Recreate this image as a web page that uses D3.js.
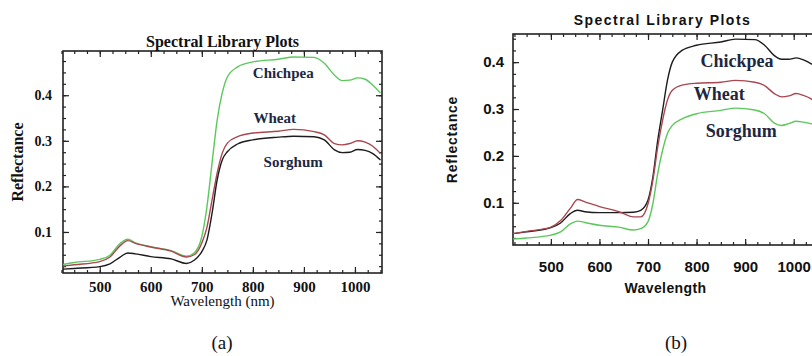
<!DOCTYPE html>
<html>
<head>
<meta charset="utf-8">
<script src="https://cdn.jsdelivr.net/npm/d3@7"></script>
<style>
  body { margin: 0; background: #fff; }
  svg { display: block; }
</style>
</head>
<body>
<script>
var width = 812,
    height = 356;

// wavelengths (nm) shared by every curve
var wavelengths = [420, 450, 500, 520, 540, 555, 570, 600, 640, 670, 685, 700, 710, 720, 730,
                   740, 750, 770, 800, 850, 880, 920, 940, 960, 975, 990, 1005, 1020, 1035, 1050];

// panel (a)
var chichpeaA = [0.027, 0.033, 0.040, 0.049, 0.075, 0.084, 0.076, 0.068, 0.059, 0.047, 0.054, 0.090, 0.155, 0.251, 0.345,
                 0.405, 0.440, 0.462, 0.473, 0.479, 0.484, 0.483, 0.470, 0.444, 0.432, 0.433, 0.438, 0.435, 0.422, 0.405];
var wheatA    = [0.024, 0.028, 0.035, 0.045, 0.070, 0.081, 0.075, 0.067, 0.058, 0.045, 0.050, 0.076, 0.110, 0.170, 0.229,
                 0.273, 0.295, 0.309, 0.317, 0.321, 0.325, 0.320, 0.313, 0.294, 0.291, 0.294, 0.300, 0.297, 0.288, 0.272];
var sorghumA  = [0.018, 0.020, 0.024, 0.030, 0.045, 0.054, 0.052, 0.046, 0.041, 0.031, 0.038, 0.057, 0.082, 0.141, 0.214,
                 0.258, 0.276, 0.293, 0.302, 0.308, 0.310, 0.309, 0.302, 0.280, 0.274, 0.275, 0.281, 0.279, 0.272, 0.258];

// panel (b)
var chickpeaB = [0.034, 0.038, 0.047, 0.057, 0.077, 0.084, 0.081, 0.079, 0.079, 0.080, 0.084, 0.106, 0.155, 0.233, 0.297,
                 0.361, 0.400, 0.425, 0.436, 0.443, 0.449, 0.448, 0.436, 0.414, 0.406, 0.406, 0.409, 0.405, 0.397, 0.390];
var wheatB    = [0.034, 0.039, 0.048, 0.062, 0.088, 0.107, 0.102, 0.092, 0.081, 0.070, 0.070, 0.098, 0.148, 0.219, 0.276,
                 0.319, 0.340, 0.351, 0.355, 0.357, 0.361, 0.357, 0.350, 0.333, 0.326, 0.328, 0.333, 0.329, 0.322, 0.310];
var sorghumB  = [0.023, 0.025, 0.031, 0.038, 0.055, 0.061, 0.058, 0.052, 0.048, 0.042, 0.045, 0.060, 0.098, 0.163, 0.212,
                 0.248, 0.265, 0.279, 0.290, 0.297, 0.302, 0.298, 0.290, 0.270, 0.265, 0.269, 0.274, 0.272, 0.269, 0.265];

var xTicks = [500, 600, 700, 800, 900, 1000];
var yTicks = [0.1, 0.2, 0.3, 0.4];

var green = "#5cc85c",
    red = "#a8474f",
    black = "#1c1c1c",
    navy = "#1e2742";

var serif = "'Liberation Serif', 'Times New Roman', serif",
    sans = "'Liberation Sans', Arial, sans-serif";

var svg = d3.select("body").append("svg")
  .attr("width", width)
  .attr("height", height);

var panels = [
  {
    id: "a", left: 63, top: 51, right: 382, bottom: 273,
    xDomain: [428, 1053], yDomain: [0.01, 0.497],
    font: serif, tickFont: 15, yTickFont: 14, xPad: 8, yPad: 11,
    title: "Spectral Library Plots", titleSize: 16, titleY: 47, titleSpacing: 0,
    xLabel: "Wavelength (nm)", xLabelFont: serif, xLabelSize: 15, xLabelWeight: "normal", xLabelY: 306,
    yLabelX: 23, yLabelSize: 16, yLabelWeight: "bold", yLabelSpacing: 0,
    caption: "(a)", captionX: 222,
    series: [
      { name: "Chichpea", values: chichpeaA, color: green, at: [800, 0.437] },
      { name: "Wheat", values: wheatA, color: red, at: [801, 0.340] },
      { name: "Sorghum", values: sorghumA, color: black, at: [821, 0.242] }
    ],
    labelSize: 15
  },
  {
    id: "b", left: 513, top: 34, right: 818, bottom: 245,
    xDomain: [422, 1050], yDomain: [0.01, 0.46],
    font: sans, tickFont: 15, yTickFont: 15, xPad: 16, yPad: 9,
    title: "Spectral Library Plots", titleSize: 14, titleY: 25, titleSpacing: 1.5,
    xLabel: "Wavelength", xLabelFont: sans, xLabelSize: 14, xLabelWeight: "bold", xLabelY: 293,
    yLabelX: 457, yLabelSize: 14, yLabelWeight: "bold", yLabelSpacing: 0.8,
    caption: "(b)", captionX: 676,
    series: [
      { name: "Chickpea", values: chickpeaB, color: black, at: [808, 0.389] },
      { name: "Wheat", values: wheatB, color: red, at: [794, 0.319] },
      { name: "Sorghum", values: sorghumB, color: green, at: [819, 0.240] }
    ],
    labelSize: 18
  }
];

panels.forEach(function(p) {
  var x = d3.scaleLinear().domain(p.xDomain).range([p.left, p.right]);
  var y = d3.scaleLinear().domain(p.yDomain).range([p.bottom, p.top]);
  var g = svg.append("g").attr("class", "panel-" + p.id);

  g.append("clipPath").attr("id", "clip-" + p.id)
    .append("rect")
    .attr("x", p.left).attr("y", p.top)
    .attr("width", p.right - p.left).attr("height", p.bottom - p.top);

  var xMinor = d3.range(425, 1051, 25);
  var yMinor = d3.range(0.025, 0.5, 0.025).filter(function(v) { return v <= p.yDomain[1]; });

  // minor ticks on all four sides, pointing inward
  g.append("g").attr("transform", "translate(0," + p.bottom + ")")
    .call(d3.axisBottom(x).tickValues(xMinor).tickSize(-3).tickFormat(""));
  g.append("g").attr("transform", "translate(0," + p.top + ")")
    .call(d3.axisTop(x).tickValues(xMinor).tickSize(-3).tickFormat(""));
  g.append("g").attr("transform", "translate(" + p.left + ",0)")
    .call(d3.axisLeft(y).tickValues(yMinor).tickSize(-3).tickFormat(""));
  g.append("g").attr("transform", "translate(" + p.right + ",0)")
    .call(d3.axisRight(y).tickValues(yMinor).tickSize(-3).tickFormat(""));

  // major ticks with labels
  var xAxis = g.append("g").attr("transform", "translate(0," + p.bottom + ")")
    .call(d3.axisBottom(x).tickValues(xTicks).tickSize(-6).tickPadding(p.xPad).tickFormat(d3.format("d")));
  xAxis.selectAll("text").attr("font-size", p.tickFont);
  g.append("g").attr("transform", "translate(0," + p.top + ")")
    .call(d3.axisTop(x).tickValues(xTicks).tickSize(-6).tickFormat(""));
  var yAxis = g.append("g").attr("transform", "translate(" + p.left + ",0)")
    .call(d3.axisLeft(y).tickValues(yTicks).tickSize(-6).tickPadding(p.yPad).tickFormat(d3.format(".1f")));
  yAxis.selectAll("text").attr("font-size", p.yTickFont);
  g.append("g").attr("transform", "translate(" + p.right + ",0)")
    .call(d3.axisRight(y).tickValues(yTicks).tickSize(-6).tickFormat(""));

  g.selectAll(".domain").remove();
  g.selectAll(".tick line").attr("stroke", "#222").attr("stroke-width", 1.2);
  g.selectAll(".tick text")
    .attr("font-family", p.font)
    .attr("font-weight", "bold")
    .attr("fill", "#111");

  // frame
  g.append("rect")
    .attr("x", p.left).attr("y", p.top)
    .attr("width", p.right - p.left).attr("height", p.bottom - p.top)
    .attr("fill", "none")
    .attr("stroke", "#222")
    .attr("stroke-width", 1.6);

  // curves
  var line = d3.line()
    .x(function(d, i) { return x(wavelengths[i]); })
    .y(function(d) { return y(d); })
    .curve(d3.curveMonotoneX);

  g.append("g").attr("clip-path", "url(#clip-" + p.id + ")")
    .selectAll("path")
    .data(p.series)
    .enter().append("path")
    .attr("d", function(s) { return line(s.values); })
    .attr("fill", "none")
    .attr("stroke", function(s) { return s.color; })
    .attr("stroke-width", 1.4);

  // curve names
  g.selectAll(".curve-label")
    .data(p.series)
    .enter().append("text")
    .attr("class", "curve-label")
    .attr("x", function(s) { return x(s.at[0]); })
    .attr("y", function(s) { return y(s.at[1]); })
    .attr("font-family", serif)
    .attr("font-weight", "bold")
    .attr("font-size", p.labelSize)
    .attr("fill", navy)
    .text(function(s) { return s.name; });

  // title
  g.append("text")
    .attr("x", (p.left + Math.min(p.right, width)) / 2)
    .attr("y", p.titleY)
    .attr("text-anchor", "middle")
    .attr("font-family", p.font)
    .attr("font-weight", "bold")
    .attr("font-size", p.titleSize)
    .attr("letter-spacing", p.titleSpacing)
    .attr("fill", "#111")
    .text(p.title);

  // axis titles
  g.append("text")
    .attr("x", (p.left + p.right) / 2)
    .attr("y", p.xLabelY)
    .attr("text-anchor", "middle")
    .attr("font-family", p.xLabelFont)
    .attr("font-weight", p.xLabelWeight)
    .attr("font-size", p.xLabelSize)
    .attr("letter-spacing", p.id == "b" ? 0.4 : 0)
    .attr("fill", "#111")
    .text(p.xLabel);

  g.append("text")
    .attr("transform", "translate(" + p.yLabelX + "," + (p.top + p.bottom) / 2 + ") rotate(-90)")
    .attr("text-anchor", "middle")
    .attr("font-family", p.font)
    .attr("font-weight", p.yLabelWeight)
    .attr("font-size", p.yLabelSize)
    .attr("letter-spacing", p.yLabelSpacing)
    .attr("fill", "#111")
    .text("Reflectance");

  // caption
  g.append("text")
    .attr("x", p.captionX)
    .attr("y", 349)
    .attr("text-anchor", "middle")
    .attr("font-family", serif)
    .attr("font-size", 19)
    .attr("fill", "#111")
    .text(p.caption);
});
</script>
</body>
</html>
